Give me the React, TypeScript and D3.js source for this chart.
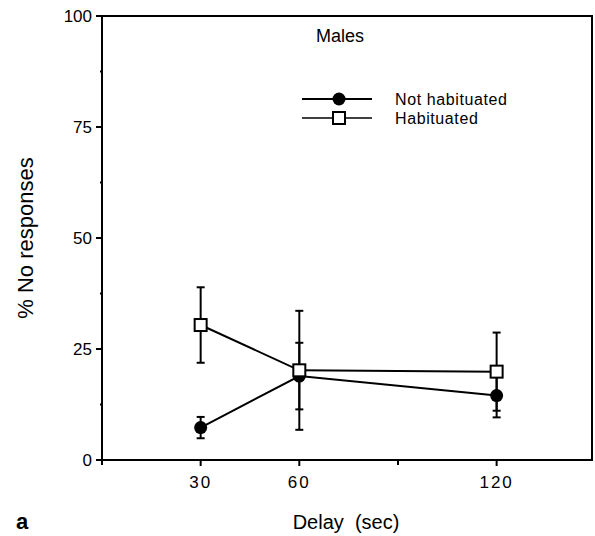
import React from "react";
import * as d3 from "d3";

// Delay in seconds
const delays = [30, 60, 120];
// % No responses, mean and error half-widths
const notHabituated = [7.3, 18.9, 14.5];
const notHabituatedErr = [2.4, 7.5, 4.9];
const habituated = [30.4, 20.2, 19.9];
const habituatedErr = [8.5, 13.4, 8.8];

const yMajorTicks = [0, 25, 50, 75, 100];
const yMinorTicks = [12.5, 37.5, 62.5, 87.5];
const xLabelTicks = [30, 60, 120];
const xMinorTicks = [0, 90];

const W = 595;
const H = 536;
const left = 102;
const right = 592;
const top = 16;
const bottom = 460;

const FONT = "'Liberation Sans', Arial, Helvetica, sans-serif";

export default function App() {
  const x = d3.scaleLinear().domain([0, 149]).range([left, right]);
  const y = d3.scaleLinear().domain([0, 100]).range([bottom, top]);

  const line = d3
    .line<number>()
    .x((_, i) => x(delays[i]))
    .y((d) => y(d));

  const errorBar = (cx: number, m: number, e: number, key: string) => {
    const y1 = y(m + e);
    const y2 = y(m - e);
    return (
      <g key={key} stroke="#000" strokeWidth={2}>
        <line x1={cx} x2={cx} y1={y1} y2={y2} />
        <line x1={cx - 4} x2={cx + 4} y1={y1} y2={y1} />
        <line x1={cx - 4} x2={cx + 4} y1={y2} y2={y2} />
      </g>
    );
  };

  return (
    <svg
      width={W}
      height={H}
      style={{ position: "absolute", left: 0, top: 0, background: "#fff" }}
      fontFamily={FONT}
    >
      {/* frame */}
      <rect
        x={left}
        y={top}
        width={right - left}
        height={bottom - top}
        fill="none"
        stroke="#000"
        strokeWidth={2}
      />

      {/* y axis ticks */}
      {yMajorTicks.map((t) => (
        <g key={`ym${t}`}>
          <line x1={left - 6} x2={left} y1={y(t)} y2={y(t)} stroke="#000" strokeWidth={2} />
          <text x={left - 10} y={y(t)} dy="0.36em" textAnchor="end" fontSize={17}>
            {t}
          </text>
        </g>
      ))}
      {yMinorTicks.map((t) => (
        <line key={`yn${t}`} x1={left - 2} x2={left} y1={y(t)} y2={y(t)} stroke="#000" strokeWidth={2} />
      ))}

      {/* x axis ticks */}
      {xLabelTicks.map((t) => (
        <g key={`xm${t}`}>
          <line x1={x(t)} x2={x(t)} y1={bottom} y2={bottom + 6} stroke="#000" strokeWidth={2} />
          <text x={x(t)} y={bottom + 28} textAnchor="middle" fontSize={17} letterSpacing={2}>
            {t}
          </text>
        </g>
      ))}
      {xMinorTicks.map((t) => (
        <line key={`xn${t}`} x1={x(t)} x2={x(t)} y1={bottom} y2={bottom + 5} stroke="#000" strokeWidth={2} />
      ))}

      {/* axis titles */}
      <text
        transform={`translate(33, ${(top + bottom) / 2}) rotate(-90)`}
        textAnchor="middle"
        fontSize={22}
      >
        % No responses
      </text>
      <text x={346} y={529} textAnchor="middle" fontSize={20} style={{ whiteSpace: "pre" }}>
        {"Delay  (sec)"}
      </text>
      <text x={16} y={529} fontSize={22} fontWeight="bold">
        a
      </text>
      <text x={340} y={42} textAnchor="middle" fontSize={18}>
        Males
      </text>

      {/* error bars */}
      {delays.map((d, i) => errorBar(x(d), habituated[i], habituatedErr[i], `he${i}`))}
      {delays.map((d, i) => errorBar(x(d), notHabituated[i], notHabituatedErr[i], `ne${i}`))}

      {/* series lines */}
      <path d={line(notHabituated) ?? ""} fill="none" stroke="#000" strokeWidth={2} />
      <path d={line(habituated) ?? ""} fill="none" stroke="#000" strokeWidth={2} />

      {/* markers */}
      {delays.map((d, i) => (
        <circle key={`nc${i}`} cx={x(d)} cy={y(notHabituated[i])} r={6.5} fill="#000" />
      ))}
      {delays.map((d, i) => (
        <rect
          key={`hs${i}`}
          x={x(d) - 6}
          y={y(habituated[i]) - 6}
          width={12}
          height={12}
          fill="#fff"
          stroke="#000"
          strokeWidth={2}
        />
      ))}

      {/* legend */}
      <g>
        <line x1={302} x2={372} y1={99} y2={99} stroke="#000" strokeWidth={2} />
        <circle cx={339} cy={99} r={6.5} fill="#000" />
        <text x={395} y={99} dy="0.36em" fontSize={16} letterSpacing={0.6}>
          Not habituated
        </text>
        <line x1={302} x2={372} y1={118} y2={118} stroke="#000" strokeWidth={1.5} />
        <rect x={333} y={112} width={12} height={12} fill="#fff" stroke="#000" strokeWidth={2} />
        <text x={395} y={118} dy="0.36em" fontSize={16} letterSpacing={0.6}>
          Habituated
        </text>
      </g>
    </svg>
  );
}
